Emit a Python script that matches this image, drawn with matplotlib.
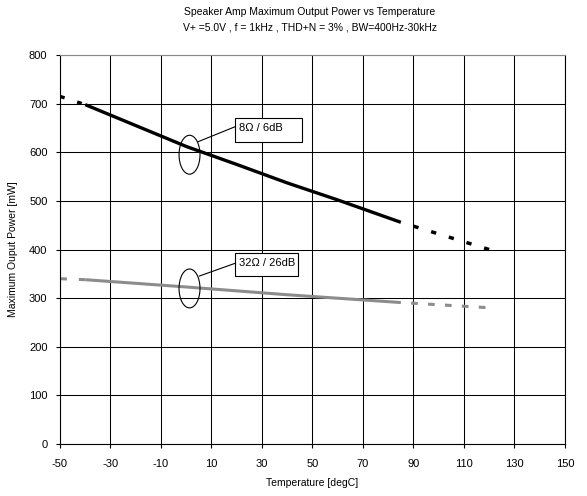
import matplotlib
matplotlib.use("Agg")
import matplotlib.pyplot as plt
from matplotlib.patches import Ellipse, Rectangle

plt.rcParams['font.family'] = ['Liberation Sans', 'DejaVu Sans']
plt.rcParams['axes.unicode_minus'] = False
plt.rcParams['lines.scale_dashes'] = False

# 8 ohm / 6dB
t8_solid = [-40, -20, 0, 20, 40, 60, 85]
p8_solid = [698, 655, 612, 575, 537, 502, 456]
t8_low = [-50, -40]
p8_low = [715, 698]
t8_high = [85, 120]
p8_high = [456, 400]

# 32 ohm / 26dB
t32_solid = [-40, 0, 40, 85]
p32_solid = [338, 323, 307, 291]
t32_low = [-50, -40]
p32_low = [340, 338]
t32_high = [85, 121]
p32_high = [291, 280]

xticks = list(range(-50, 151, 20))
yticks = list(range(0, 801, 100))

fig = plt.figure(figsize=(5.87, 4.96), dpi=100)
ax = fig.add_axes([0.1022, 0.1048, 0.8603, 0.7842])

ax.set_xlim(-50, 150)
ax.set_ylim(0, 800)
ax.set_xticks(xticks)
ax.set_yticks(yticks)
ax.grid(True, color='black', linewidth=0.75)
ax.set_axisbelow(True)
for s in ax.spines.values():
    s.set_linewidth(0.8)
ax.spines['top'].set_color('#888888')
ax.tick_params(labelsize=8, length=3, width=0.8)
ax.tick_params(axis='x', pad=8)
ax.tick_params(axis='y', pad=6)

black = 'black'
gray = '#8c8c8c'
ax.plot(t8_solid, p8_solid, color=black, lw=2.4, solid_capstyle='butt')
ax.plot(t8_low, p8_low, color=black, lw=2.4, linestyle=(0, (3.5, 9.5)))
ax.plot(t8_high, p8_high, color=black, lw=2.5, linestyle=(3.8, (3.8, 9.5)))
ax.plot(t32_solid, p32_solid, color=gray, lw=2.2, solid_capstyle='butt')
ax.plot(t32_low, p32_low, color=gray, lw=2.2, linestyle=(0, (5, 8.6)))
ax.plot(t32_high, p32_high, color=gray, lw=2.2, linestyle=(4.8, (4.8, 7.4)))

# annotations
ax.add_patch(Ellipse((1.3, 595), 8.3, 80, fill=False, lw=0.8, color='black', zorder=5))
ax.add_patch(Ellipse((1.3, 320), 8.3, 80, fill=False, lw=0.8, color='black', zorder=5))
ax.plot([4.65, 19.3], [621.7, 652.5], color='black', lw=0.8, zorder=5)
ax.plot([5.2, 19.3], [345.5, 371.6], color='black', lw=0.8, zorder=5)
ax.add_patch(Rectangle((19.3, 621.7), 26.5, 49.3, fc='white', ec='black', lw=0.8, zorder=6))
ax.add_patch(Rectangle((19.3, 345.5), 25.0, 47.9, fc='white', ec='black', lw=0.8, zorder=6))
ax.text(20.8, 649, "8Ω / 6dB", fontsize=8, va='center', ha='left', zorder=7)
ax.text(20.8, 372, "32Ω / 26dB", fontsize=8, va='center', ha='left', zorder=7)

ax.set_xlabel("Temperature [degC]", fontsize=7.5, labelpad=6)
ax.set_ylabel("Maximum Ouput Power [mW]", fontsize=7.5)
ax.yaxis.set_label_coords(-0.083, 0.5)

fig.text(0.528, 0.975, "Speaker Amp Maximum Output Power vs Temperature", ha='center', va='center', fontsize=7.5)
fig.text(0.528, 0.945, "V+ =5.0V , f = 1kHz , THD+N = 3% , BW=400Hz-30kHz", ha='center', va='center', fontsize=7.5)

fig.savefig("out.png", dpi=100)
